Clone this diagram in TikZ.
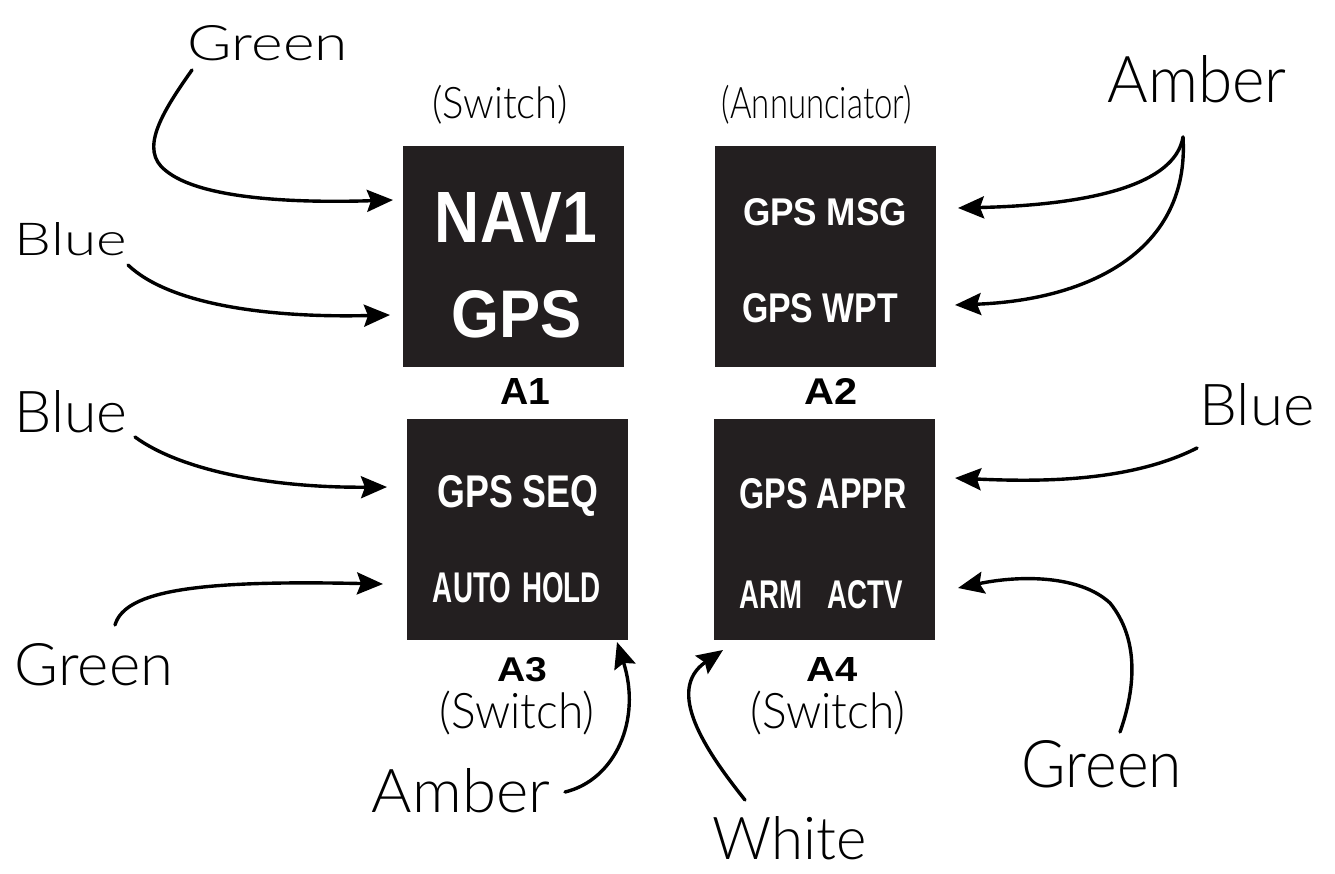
\documentclass[tikz,border=0pt]{standalone}
\usepackage{fontspec}
\usepackage{graphicx}
\usetikzlibrary{arrows.meta}
\newfontfamily\hv{Liberation Sans}
\newfontfamily\hand{Lato Light}
\definecolor{boxc}{HTML}{231F20}
\newcommand{\bxt}[3]{\resizebox{#1pt}{#2pt}{\hv\bfseries #3}}
\newcommand{\hwt}[3]{\resizebox{#1pt}{#2pt}{\hand #3}}
\newcommand{\hwp}[3]{\resizebox*{#1pt}{#2pt}{\hand #3}}
\tikzset{
  panel/.style={fill=boxc, draw=none, minimum width=221pt, minimum height=221pt, inner sep=0pt},
  lbl/.style={inner sep=0pt, anchor=base},
  wlbl/.style={lbl, text=white},
  arr/.style={line width=3.4pt, line cap=round, -{Stealth[length=26pt,width=22pt,inset=4pt]}}
}
\begin{document}
\begin{tikzpicture}[x=1pt,y=-1pt]
\useasboundingbox (0,0) rectangle (1335,873);
% panels
\node[panel] (A1) at (513.5,256.5) {};
\node[panel] (A2) at (825,256) {};
\node[panel] (A3) at (517,529) {};
\node[panel] (A4) at (824,529) {};
% panel texts
\node[wlbl] (nav) at (516,242) {\bxt{162}{50}{NAV1}};
\node[wlbl] (gps) at (517,337) {\bxt{130}{47}{GPS}};
\node[wlbl] (msg) at (825,225) {\bxt{164}{27}{GPS MSG}};
\node[wlbl] (wpt) at (820,322) {\bxt{156}{29}{GPS WPT}};
\node[wlbl] (seq) at (518,507) {\bxt{161}{32}{GPS SEQ}};
\node[wlbl] (hold) at (517,602) {\bxt{168}{30}{AUTO\hspace{0.4em}HOLD}};
\node[wlbl] (appr) at (823,508) {\bxt{167}{30}{GPS APPR}};
\node[wlbl] (actv) at (821,608) {\bxt{163}{28}{ARM\hspace{0.9em}ACTV}};
% panel names
\node[lbl] (n1) at (525,404) {\bxt{50}{26}{A1}};
\node[lbl] (n2) at (831,404) {\bxt{53}{26}{A2}};
\node[lbl] (n3) at (522,681) {\bxt{50}{24}{A3}};
\node[lbl] (n4) at (832,681) {\bxt{51}{24}{A4}};
% type labels
\node[lbl] (t1) at (500,118) {\hwp{135}{39}{(Switch)}};
\node[lbl] (t2) at (817,118) {\hwp{190}{39}{(Annunciator)}};
\node[lbl] (t3) at (517,728) {\hwp{155}{44}{(Switch)}};
\node[lbl] (t4) at (828,728) {\hwp{155}{44}{(Switch)}};
% colour labels
\node[lbl] (cg1) at (268,60) {\hwt{160}{35}{Green}};
\node[lbl] (cb1) at (71,255) {\hwt{112}{33}{Blue}};
\node[lbl] (cb2) at (71,432) {\hwt{113}{42}{Blue}};
\node[lbl] (cg2) at (94,685) {\hwt{158}{42}{Green}};
\node[lbl] (ca1) at (1197,102) {\hwt{179}{47}{Amber}};
\node[lbl] (cb3) at (1257,425) {\hwt{115}{42}{Blue}};
\node[lbl] (cg3) at (1102,787) {\hwt{160}{47}{Green}};
\node[lbl] (ca2) at (461,812) {\hwt{178}{44}{Amber}};
\node[lbl] (cw) at (790,859) {\hwt{154}{43}{White}};
% arrow end points
\coordinate (g1s) at (192,70);  \coordinate (g1e) at (393,200);
\coordinate (b1s) at (128,265); \coordinate (b1e) at (390,315);
\coordinate (b2s) at (135,437); \coordinate (b2e) at (387,487);
\coordinate (g2s) at (115,625); \coordinate (g2e) at (383,584);
\coordinate (a1s) at (1183,137); \coordinate (a1e) at (958,208); \coordinate (a1f) at (955,305);
\coordinate (b3s) at (1197,448); \coordinate (b3e) at (955,478);
\coordinate (g3s) at (1120,732); \coordinate (g3e) at (958,588);
\coordinate (a2s) at (565,792); \coordinate (a2e) at (617,642);
\coordinate (ws) at (745,800);  \coordinate (we) at (723,650);
% arrows
\draw[arr] (g1s) .. controls (160,115) and (140,150) .. (165,170) .. controls (200,200) and (300,203) .. (g1e);
\draw[arr] (b1s) .. controls (170,305) and (270,318) .. (b1e);
\draw[arr] (b2s) .. controls (180,470) and (270,488) .. (b2e);
\draw[arr] (g2s) .. controls (125,590) and (200,580) .. (g2e);
\draw[arr] (a1s) .. controls (1175,185) and (1090,205) .. (a1e);
\draw[arr] (a1s) .. controls (1190,250) and (1090,300) .. (a1f);
\draw[arr] (b3s) .. controls (1130,482) and (1040,482) .. (b3e);
\draw[arr] (g3s) .. controls (1135,690) and (1140,640) .. (1110,603) .. controls (1080,575) and (1020,575) .. (g3e);
\draw[arr] (a2s) .. controls (615,780) and (642,720) .. (a2e);
\draw[arr] (ws) .. controls (705,750) and (665,690) .. (we);
\end{tikzpicture}
\end{document}
